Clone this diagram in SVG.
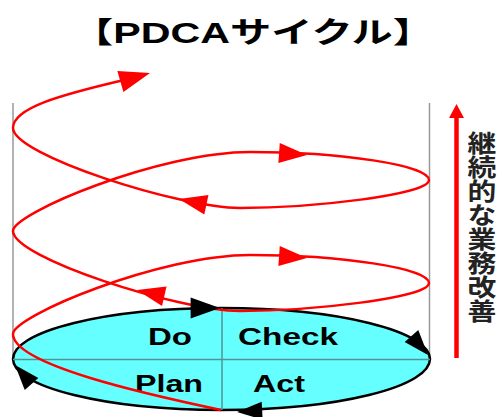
<svg xmlns="http://www.w3.org/2000/svg" width="502" height="417" viewBox="0 0 502 417">
  <defs>
    <style>
      .title { font-family: "Liberation Sans", "Noto Sans CJK JP", sans-serif; font-weight: bold; font-size: 29px; fill: #000; }
      .lbl { font-family: "Liberation Sans", "Noto Sans CJK JP", sans-serif; font-weight: bold; font-size: 24px; fill: #000; }
      .vtext { font-family: "Noto Sans CJK JP", sans-serif; font-weight: bold; font-size: 24px; fill: #222; writing-mode: vertical-rl; }
      .side { stroke: #999; stroke-width: 1.5; fill: none; }
      .spiral { stroke: #ff0000; stroke-width: 2.5; fill: none; }
      .div { stroke: #4f9595; stroke-width: 1.5; fill: none; }
    </style>
    <polygon id="redHead" points="0,0 -28,-10 -28,10" fill="#ff0000"/>
    <polygon id="blackHead" points="0,0 -28,-10 -28,10" fill="#000"/>
  </defs>
  <rect width="502" height="417" fill="#fff"/>

  <g id="title">
    <text class="title" x="72" y="43" textLength="362" lengthAdjust="spacingAndGlyphs">【PDCAサイクル】</text>
  </g>

  <g id="cylinder-sides">
    <line class="side" x1="13" y1="103" x2="13" y2="359"/>
    <line class="side" x1="429.5" y1="103" x2="429.5" y2="359"/>
  </g>

  <g id="pdca-ellipse">
    <ellipse cx="221.5" cy="359" rx="208.5" ry="51" fill="#66ffff" stroke="#000" stroke-width="2.5"/>
    <line class="div" x1="13" y1="359.5" x2="430" y2="359.5"/>
    <line class="div" x1="222" y1="308" x2="222" y2="410"/>
  </g>
  <g id="do"><text class="lbl" x="148" y="345" textLength="44" lengthAdjust="spacingAndGlyphs">Do</text></g>
  <g id="check"><text class="lbl" x="238" y="345" textLength="100" lengthAdjust="spacingAndGlyphs">Check</text></g>
  <g id="plan"><text class="lbl" x="135" y="392" textLength="68" lengthAdjust="spacingAndGlyphs">Plan</text></g>
  <g id="act"><text class="lbl" x="253" y="392" textLength="52" lengthAdjust="spacingAndGlyphs">Act</text></g>

  <g id="connectors">
    <path class="spiral" d="M221,410 C150,395 13,365 13,334
      C13,316 160,255 250,255 C340,255 429,268 429,283
      C429,298 310,311 240,311 C180,311 13,258 13,231
      C13,213 160,152 250,152 C340,152 429,165 429,180
      C429,195 310,208 240,208 C180,208 13,155 13,128
      C13,108 60,95 124,80"/>
    <use href="#redHead" transform="translate(150,73) rotate(-16) scale(1.1)"/>
    <use href="#redHead" transform="translate(307,155) rotate(4)"/>
    <use href="#redHead" transform="translate(179,199) rotate(192)"/>
    <use href="#redHead" transform="translate(307,258) rotate(4)"/>
    <use href="#redHead" transform="translate(137,290) rotate(193)"/>

    <use href="#blackHead" transform="translate(220,308) rotate(0) scale(1.05)"/>
    <use href="#blackHead" transform="translate(428,355) rotate(49) scale(0.9)"/>
    <use href="#blackHead" transform="translate(237,412) rotate(177) scale(0.9)"/>
    <use href="#blackHead" transform="translate(15,365) rotate(229) scale(0.9)"/>

    <line x1="456.5" y1="114" x2="456.5" y2="358" stroke="#ff0000" stroke-width="4.5"/>
    <polygon points="456.5,104 449,118 464,118" fill="#ff0000"/>
  </g>

  <g id="improvement-label">
    <text class="vtext" x="482" y="131" transform="matrix(1.2 0 0 1 -96.4 0)">継続的な業務改善</text>
  </g>
</svg>
